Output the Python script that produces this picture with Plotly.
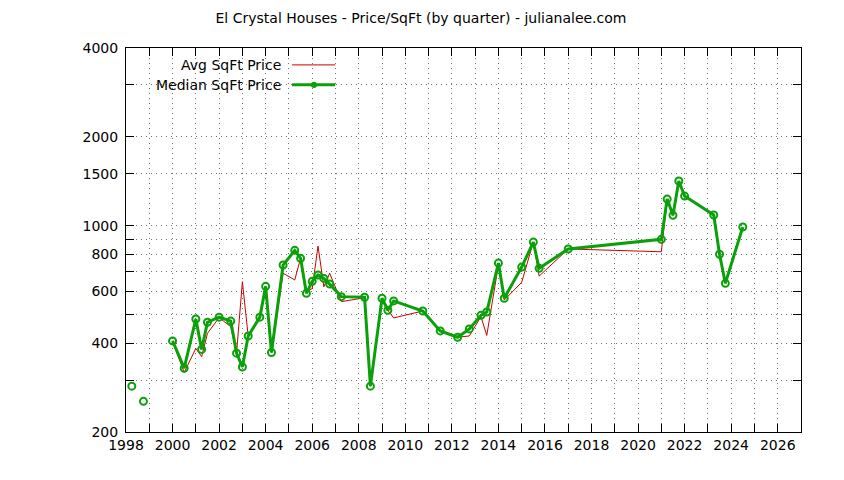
"""El Crystal houses - price per square foot by quarter (gnuplot-style chart in Plotly)"""

import plotly.graph_objects as go

# Quarter dates (decimal year) and prices
quarters = [1998.25, 1998.75, 2000.0, 2000.5, 2001.0, 2001.25, 2001.5, 2002.0,
            2002.5, 2002.75, 2003.0, 2003.25, 2003.75, 2004.0, 2004.25, 2004.75,
            2005.25, 2005.5, 2005.75, 2006.0, 2006.25, 2006.5, 2006.75, 2007.25,
            2008.25, 2008.5, 2009.0, 2009.25, 2009.5, 2010.75, 2011.5, 2012.25,
            2012.75, 2013.25, 2013.5, 2014.0, 2014.25, 2015.0, 2015.5, 2015.75,
            2017.0, 2021.0, 2021.25, 2021.5, 2021.75, 2022.0, 2023.25, 2023.5,
            2023.75, 2024.5]

median_price = [286, 254, 407, 329, 483, 381, 471, 490, 475, 370, 332, 423, 490,
                623, 372, 736, 825, 775, 590, 648, 681, 663, 634, 575, 572, 286,
                568, 517, 556, 514, 440, 419, 447, 497, 510, 747, 568, 724, 880,
                717, 834, 899, 1231, 1084, 1417, 1260, 1087, 800, 638, 990]

avg_price = [286, 254, 407, 318, 384, 360, 432, 488, 455, 370, 646, 423, 490,
             623, 372, 690, 655, 775, 595, 613, 853, 621, 690, 553, 570, 286,
             568, 517, 487, 514, 440, 419, 423, 492, 425, 736, 560, 643, 880,
             675, 834, 816, 1231, 1084, 1417, 1260, 1087, 800, 638, 990]

# the line is broken after these quarters (missing data)
breaks_after = [1998.25, 1998.75]

year_ticks = list(range(1998, 2028))
year_labels = [str(y) if y % 2 == 0 and y < 2027 else '' for y in year_ticks]

price_ticks = [200, 300, 400, 500, 600, 700, 800, 900, 1000, 1500, 2000, 3000, 4000]
price_labels = ['200', '', '400', '', '600', '', '800', '', '1000', '1500', '2000', '', '4000']

RED = '#cc0000'
GREEN = '#0aa00a'
FONT = 'DejaVu Sans'
GRID = '#707070'

# page body has an 8px margin, so the figure is shrunk by that much
W, H = 836, 472


def with_gaps(xs, ys):
    """Insert None after break points so gnuplot-like gaps appear"""
    gx, gy = [], []
    for x, y in zip(xs, ys):
        gx.append(x)
        gy.append(y)
        if x in breaks_after:
            gx.append(None)
            gy.append(None)
    return gx, gy


ax, ay = with_gaps(quarters, avg_price)
mx, my = with_gaps(quarters, median_price)

fig = go.Figure()
fig.add_trace(go.Scatter(x=ax, y=ay, mode='lines', name='Avg SqFt Price',
                         line=dict(color=RED, width=1)))
fig.add_trace(go.Scatter(x=mx, y=my, mode='lines+markers', name='Median SqFt Price',
                         line=dict(color=GREEN, width=3),
                         marker=dict(symbol='circle-open', size=7, color=GREEN,
                                     line=dict(width=2, color=GREEN))))

# gnuplot-style key: text right-aligned, sample to the right
key_rows = [('Avg SqFt Price', RED, 1, False, 0.956),
            ('Median SqFt Price', GREEN, 3, True, 0.904)]
for label, color, width, marker, ky in key_rows:
    fig.add_annotation(x=0.233, y=ky, xref='paper', yref='paper', text=label,
                       showarrow=False, xanchor='right', yanchor='middle',
                       font=dict(family=FONT, size=14, color='black'))
    fig.add_shape(type='line', xref='paper', yref='paper', x0=0.246, x1=0.310,
                  y0=ky, y1=ky, line=dict(color=color, width=width))
    if marker:
        fig.add_shape(type='circle', xref='paper', yref='paper',
                      x0=0.2785 - 0.004, x1=0.2785 + 0.004,
                      y0=ky - 0.007, y1=ky + 0.007,
                      fillcolor=GREEN, line=dict(color=GREEN, width=1))

fig.update_layout(
    width=W, height=H, autosize=False,
    paper_bgcolor='white', plot_bgcolor='white',
    margin=dict(l=118, r=43, t=40, b=48),
    showlegend=False,
    font=dict(family=FONT, size=14, color='black'),
    title=dict(text='El Crystal Houses - Price/SqFt (by quarter) - julianalee.com',
               x=(421 - 8) / W, xref='container', xanchor='center',
               y=1 - 10 / H, yref='container', yanchor='middle',
               font=dict(family=FONT, size=14, color='black')),
)

fig.update_xaxes(range=[1998, 2027], tickmode='array', tickvals=year_ticks,
                 ticktext=year_labels, ticks='inside', ticklen=8, tickcolor='black',
                 showline=True, linecolor='black', linewidth=1, mirror='ticks',
                 showgrid=True, gridcolor=GRID, griddash='1px,4px', gridwidth=1,
                 zeroline=False, tickfont=dict(family=FONT, size=14))

fig.update_yaxes(type='log', range=[2.30103, 3.60206], tickmode='array',
                 tickvals=price_ticks, ticktext=price_labels, ticks='inside',
                 ticklen=8, tickcolor='black', showline=True, linecolor='black',
                 linewidth=1, mirror='ticks', showgrid=True, gridcolor=GRID,
                 griddash='1px,4px', gridwidth=1, zeroline=False,
                 ticklabelstandoff=4, tickfont=dict(family=FONT, size=14))

fig.write_html('out.html')
